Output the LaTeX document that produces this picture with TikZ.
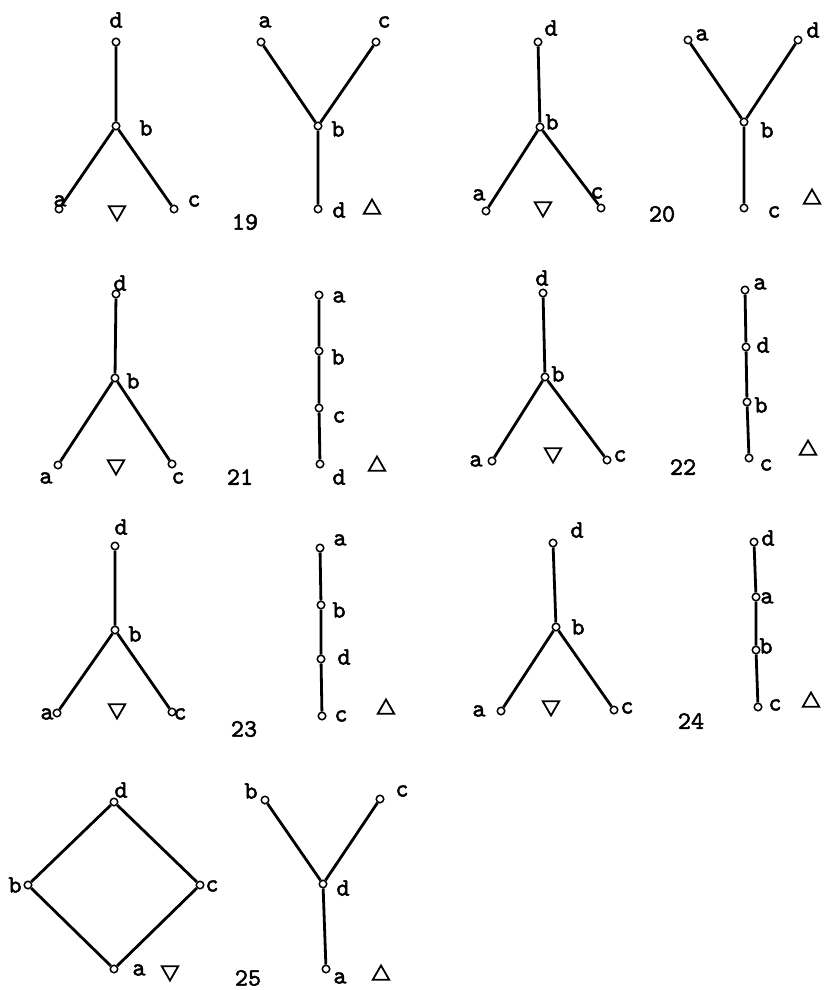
\documentclass[tikz,border=0pt]{standalone}
\usepackage{fontspec}
\newfontfamily\typefont[Extension=.otf,FakeBold=2]{lmmono10-regular}
\usetikzlibrary{shapes.geometric}

\begin{document}
\begin{tikzpicture}[
  x=1pt,y=-1pt,
  font=\typefont\fontsize{25}{27}\selectfont,
  pt/.style={circle,draw,fill=white,inner sep=0pt,minimum size=7.5pt,line width=1.5pt},
  lbl/.style={inner sep=0pt},
  edge/.style={line width=2.8pt},
  dn/.style={regular polygon,regular polygon sides=3,shape border rotate=180,draw,line width=1.8pt,inner sep=0pt,minimum size=19pt},
  up/.style={regular polygon,regular polygon sides=3,draw,line width=1.8pt,inner sep=0pt,minimum size=19pt},
]
\useasboundingbox (0,0) rectangle (823,990);

% ---- 19
\node[pt] (p19d) at (116,42) {};
\node[pt] (p19b) at (116,126) {};
\node[pt] (p19a) at (59,209) {};
\node[pt] (p19c) at (174,209) {};
\draw[edge] (p19d) -- (p19b) (p19b) -- (p19a) (p19b) -- (p19c);
\node[lbl] (t19d) at (116,20) {d};
\node[lbl] (t19b) at (146,128) {b};
\node[lbl] (t19a) at (60,201) {a};
\node[lbl] (t19c) at (194,201) {c};
\node[dn] (k19) at (117,211) {};

\node[pt] (q19a) at (261,42) {};
\node[pt] (q19c) at (376,42) {};
\node[pt] (q19b) at (318,126) {};
\node[pt] (q19d) at (318,209) {};
\draw[edge] (q19a) -- (q19b) (q19c) -- (q19b) (q19b) -- (q19d);
\node[lbl] (s19a) at (265,22) {a};
\node[lbl] (s19c) at (384,22) {c};
\node[lbl] (s19b) at (338,129) {b};
\node[lbl] (s19d) at (339,210) {d};
\node[up] (m19) at (372,209) {};
\node[lbl] (n19) at (245,222) {19};

% ---- 20
\node[pt] (p20d) at (538,42) {};
\node[pt] (p20b) at (540,127) {};
\node[pt] (p20a) at (486,211) {};
\node[pt] (p20c) at (601,208) {};
\draw[edge] (p20d) -- (p20b) (p20b) -- (p20a) (p20b) -- (p20c);
\node[lbl] (t20d) at (551,28) {d};
\node[lbl] (t20b) at (552,122) {b};
\node[lbl] (t20a) at (479,195) {a};
\node[lbl] (t20c) at (597,193) {c};
\node[dn] (k20) at (543,207) {};

\node[pt] (q20a) at (688,40) {};
\node[pt] (q20d) at (798,40) {};
\node[pt] (q20b) at (744,122) {};
\node[pt] (q20c) at (744,208) {};
\draw[edge] (q20a) -- (q20b) (q20d) -- (q20b) (q20b) -- (q20c);
\node[lbl] (s20a) at (702,35) {a};
\node[lbl] (s20d) at (813,30) {d};
\node[lbl] (s20b) at (767,130) {b};
\node[lbl] (s20c) at (774,212) {c};
\node[up] (m20) at (812,199) {};
\node[lbl] (n20) at (662,214) {20};

% ---- 21
\node[pt] (p21d) at (116,294) {};
\node[pt] (p21b) at (115,378) {};
\node[pt] (p21a) at (58,465) {};
\node[pt] (p21c) at (172,464) {};
\draw[edge] (p21d) -- (p21b) (p21b) -- (p21a) (p21b) -- (p21c);
\node[lbl] (t21d) at (120,283) {d};
\node[lbl] (t21b) at (133,381) {b};
\node[lbl] (t21a) at (46,478) {a};
\node[lbl] (t21c) at (178,478) {c};
\node[dn] (k21) at (116,465) {};

\node[pt] (q21a) at (319,295) {};
\node[pt] (q21b) at (319,351) {};
\node[pt] (q21c) at (319,408) {};
\node[pt] (q21d) at (320,464) {};
\draw[edge] (q21a) -- (q21b) -- (q21c) -- (q21d);
\node[lbl] (s21a) at (339,297) {a};
\node[lbl] (s21b) at (338,357) {b};
\node[lbl] (s21c) at (339,417) {c};
\node[lbl] (s21d) at (339,477) {d};
\node[up] (m21) at (377,466) {};
\node[lbl] (n21) at (240,477) {21};

% ---- 22
\node[pt] (p22d) at (543,293) {};
\node[pt] (p22b) at (545,377) {};
\node[pt] (p22a) at (492,461) {};
\node[pt] (p22c) at (607,460) {};
\draw[edge] (p22d) -- (p22b) (p22b) -- (p22a) (p22b) -- (p22c);
\node[lbl] (t22d) at (542,278) {d};
\node[lbl] (t22b) at (558,374) {b};
\node[lbl] (t22a) at (476,461) {a};
\node[lbl] (t22c) at (620,456) {c};
\node[dn] (k22) at (553,453) {};

\node[pt] (q22a) at (745,290) {};
\node[pt] (q22d) at (746,347) {};
\node[pt] (q22b) at (747,402) {};
\node[pt] (q22c) at (749,458) {};
\draw[edge] (q22a) -- (q22d) -- (q22b) -- (q22c);
\node[lbl] (s22a) at (760,284) {a};
\node[lbl] (s22d) at (763,345) {d};
\node[lbl] (s22b) at (761,405) {b};
\node[lbl] (s22c) at (766,465) {c};
\node[up] (m22) at (808,450) {};
\node[lbl] (n22) at (683,467) {22};

% ---- 23
\node[pt] (p23d) at (115,546) {};
\node[pt] (p23b) at (115,630) {};
\node[pt] (p23a) at (57,713) {};
\node[pt] (p23c) at (172,712) {};
\draw[edge] (p23d) -- (p23b) (p23b) -- (p23a) (p23b) -- (p23c);
\node[lbl] (t23d) at (121,527) {d};
\node[lbl] (t23b) at (135,634) {b};
\node[lbl] (t23a) at (47,714) {a};
\node[lbl] (t23c) at (180,714) {c};
\node[dn] (k23) at (117,709) {};

\node[pt] (q23a) at (320,548) {};
\node[pt] (q23b) at (321,605) {};
\node[pt] (q23d) at (321,659) {};
\node[pt] (q23c) at (322,716) {};
\draw[edge] (q23a) -- (q23b) -- (q23d) -- (q23c);
\node[lbl] (s23a) at (340,540) {a};
\node[lbl] (s23b) at (339,610) {b};
\node[lbl] (s23d) at (344,657) {d};
\node[lbl] (s23c) at (341,716) {c};
\node[up] (m23) at (386,709) {};
\node[lbl] (n23) at (244,729) {23};

% ---- 24
\node[pt] (p24d) at (553,543) {};
\node[pt] (p24b) at (556,627) {};
\node[pt] (p24a) at (501,711) {};
\node[pt] (p24c) at (614,710) {};
\draw[edge] (p24d) -- (p24b) (p24b) -- (p24a) (p24b) -- (p24c);
\node[lbl] (t24d) at (577,530) {d};
\node[lbl] (t24b) at (578,627) {b};
\node[lbl] (t24a) at (479,711) {a};
\node[lbl] (t24c) at (627,708) {c};
\node[dn] (k24) at (551,706) {};

\node[pt] (q24d) at (754,542) {};
\node[pt] (q24a) at (756,597) {};
\node[pt] (q24b) at (756,650) {};
\node[pt] (q24c) at (758,707) {};
\draw[edge] (q24d) -- (q24a) -- (q24b) -- (q24c);
\node[lbl] (s24d) at (768,538) {d};
\node[lbl] (s24a) at (767,598) {a};
\node[lbl] (s24b) at (766,646) {b};
\node[lbl] (s24c) at (775,705) {c};
\node[up] (m24) at (811,702) {};
\node[lbl] (n24) at (691,721) {24};

% ---- 25
\node[pt] (p25d) at (114,802) {};
\node[pt] (p25b) at (28,885) {};
\node[pt] (p25c) at (200,885) {};
\node[pt] (p25a) at (114,969) {};
\draw[edge] (p25d) -- (p25b) -- (p25a) -- (p25c) -- (p25d);
\node[lbl] (t25d) at (121,790) {d};
\node[lbl] (t25b) at (15,885) {b};
\node[lbl] (t25c) at (212,886) {c};
\node[lbl] (t25a) at (139,970) {a};
\node[dn] (k25) at (170,971) {};

\node[pt] (q25b) at (265,800) {};
\node[pt] (q25c) at (380,799) {};
\node[pt] (q25d) at (323,884) {};
\node[pt] (q25a) at (326,969) {};
\draw[edge] (q25b) -- (q25d) (q25c) -- (q25d) (q25d) -- (q25a);
\node[lbl] (s25b) at (251,791) {b};
\node[lbl] (s25c) at (402,791) {c};
\node[lbl] (s25d) at (343,888) {d};
\node[lbl] (s25a) at (340,978) {a};
\node[up] (m25) at (381,975) {};
\node[lbl] (n25) at (248,978) {25};
\end{tikzpicture}
\end{document}
